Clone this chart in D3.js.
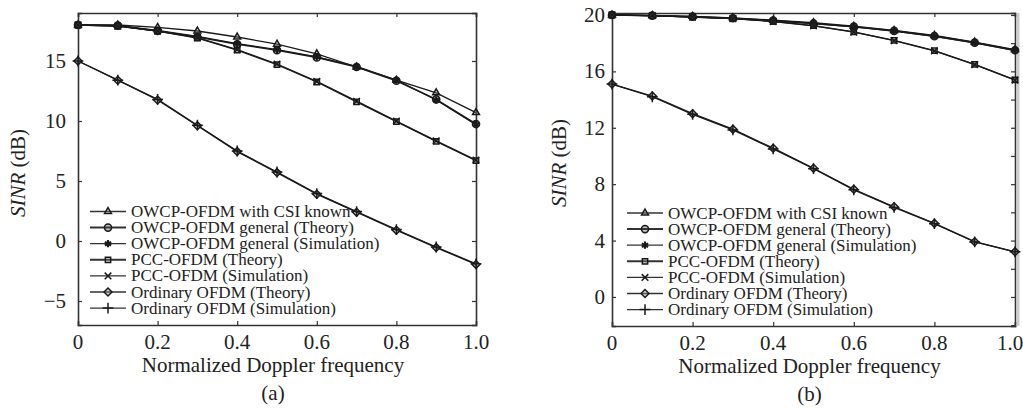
<!DOCTYPE html>
<html>
<head>
<meta charset="UTF-8">
<title>SINR vs normalized Doppler frequency</title>
<script src="https://d3js.org/d3.v7.min.js"></script>
<style>
  body { margin: 0; background: #fff; }
  svg { display: block; }
  text { font-family: "Liberation Serif", "Times New Roman", serif; fill: #222; }
</style>
</head>
<body>
<svg id="chart" width="1023" height="408"></svg>
<script>
// normalized Doppler frequency
const doppler = [0, 0.1, 0.2, 0.3, 0.4, 0.5, 0.6, 0.7, 0.8, 0.9, 1.0];

// panel (a)
const aCsiKnown = [18.0, 18.0, 17.8, 17.5, 17.0, 16.4, 15.6, 14.5, 13.4, 12.35, 10.7];
const aGenTheory = [18.0, 17.95, 17.5, 17.0, 16.4, 15.9, 15.3, 14.5, 13.35, 11.8, 9.75];
const aGenSim = [18.0, 17.95, 17.55, 17.05, 16.45, 15.95, 15.35, 14.55, 13.4, 11.75, 9.7];
const aPccTheory = [18.0, 17.9, 17.5, 16.9, 15.9, 14.7, 13.25, 11.6, 9.95, 8.3, 6.7];
const aPccSim = [18.0, 17.9, 17.5, 16.95, 15.95, 14.75, 13.3, 11.65, 10.0, 8.35, 6.75];
const aOrdTheory = [15.0, 13.4, 11.75, 9.6, 7.45, 5.7, 3.9, 2.4, 0.9, -0.55, -1.95];
const aOrdSim = [15.0, 13.4, 11.8, 9.65, 7.5, 5.75, 3.95, 2.45, 0.95, -0.5, -1.9];

// panel (b)
const bCsiKnown = [20.0, 19.97, 19.9, 19.8, 19.63, 19.45, 19.2, 18.9, 18.55, 18.08, 17.55];
const bGenTheory = [20.0, 19.95, 19.88, 19.77, 19.6, 19.4, 19.17, 18.87, 18.5, 18.04, 17.5];
const bGenSim = [20.0, 19.94, 19.86, 19.75, 19.58, 19.38, 19.15, 18.85, 18.48, 18.02, 17.48];
const bPccTheory = [20.0, 19.95, 19.85, 19.75, 19.55, 19.25, 18.8, 18.2, 17.47, 16.5, 15.4];
const bPccSim = [20.0, 19.95, 19.85, 19.74, 19.53, 19.23, 18.78, 18.18, 17.45, 16.48, 15.38];
const bOrdTheory = [15.1, 14.25, 13.0, 11.9, 10.55, 9.13, 7.64, 6.4, 5.22, 3.92, 3.2];
const bOrdSim = [15.1, 14.2, 12.95, 11.85, 10.5, 9.1, 7.6, 6.35, 5.2, 3.9, 3.2];

const legendLabels = [
  "OWCP-OFDM with CSI known",
  "OWCP-OFDM general (Theory)",
  "OWCP-OFDM general (Simulation)",
  "PCC-OFDM (Theory)",
  "PCC-OFDM (Simulation)",
  "Ordinary OFDM (Theory)",
  "Ordinary OFDM (Simulation)"
];
const markerTypes = ["triangle", "circle", "asterisk", "square", "times", "diamond", "plus"];

const xTicks = [0, 0.2, 0.4, 0.6, 0.8, 1.0];
const xTickLabels = ["0", "0.2", "0.4", "0.6", "0.8", "1.0"];
const aYTicks = [-5, 0, 5, 10, 15];
const bYTicks = [0, 4, 8, 12, 16, 20];
const bYMinorTicks = [-2, 0, 2, 4, 6, 8, 10, 12, 14, 16, 18, 20];

const svg = d3.select("#chart");
const ink = "#1a1a1a";

function symbolFor(type) {
  const m = {
    triangle: [d3.symbolTriangle2 || d3.symbolTriangle, 34],
    circle: [d3.symbolCircle, 40],
    asterisk: [d3.symbolAsterisk || d3.symbolCross, 36],
    square: [d3.symbolSquare2 || d3.symbolSquare, 36],
    times: [d3.symbolTimes || d3.symbolCross, 30],
    diamond: [d3.symbolDiamond2 || d3.symbolDiamond, 40],
    plus: [d3.symbolPlus || d3.symbolCross, 40]
  };
  return m[type];
}

function drawMarker(g, type, x, y) {
  const [sym, size] = symbolFor(type);
  const open = type === "triangle" || type === "square" || type === "diamond" || type === "circle";
  g.append("path")
    .attr("d", d3.symbol(sym, size)())
    .attr("transform", `translate(${x},${y})`)
    .attr("fill", open ? (type === "circle" ? "#444" : "#888") : "none")
    .attr("fill-opacity", open ? 0.35 : 0)
    .attr("stroke", ink)
    .attr("stroke-width", type === "asterisk" ? 2.2 : 1.5);
}

function drawPanel(cfg) {
  const g = svg.append("g");
  const x = d3.scaleLinear().domain([0, 1]).range([cfg.left, cfg.right]);
  const y = d3.scaleLinear().domain(cfg.yDomain).range([cfg.bottom, cfg.top]);

  // axes with inward ticks
  const bottomAxis = d3.axisBottom(x).tickValues(xTicks).tickSize(-4).tickFormat("");
  const topAxis = d3.axisTop(x).tickValues(xTicks).tickSize(-4).tickFormat("");
  const leftAxis = d3.axisLeft(y).tickValues(cfg.yTicks).tickSize(-4).tickFormat("");
  const rightAxis = d3.axisRight(y).tickValues(cfg.yRightTicks).tickSize(-4).tickFormat("");

  [[bottomAxis, `translate(0,${cfg.bottom})`], [topAxis, `translate(0,${cfg.top})`],
   [leftAxis, `translate(${cfg.left},0)`], [rightAxis, `translate(${cfg.right},0)`]].forEach(([ax, tr]) => {
    const a = g.append("g").attr("transform", tr).call(ax);
    a.select(".domain").attr("stroke", "#333").attr("stroke-width", 1.6);
    a.selectAll(".tick line").attr("stroke", "#333").attr("stroke-width", 1.2);
  });

  if (cfg.edgeShade) {
    g.append("line")
      .attr("x1", cfg.right + 3).attr("x2", cfg.right + 3)
      .attr("y1", cfg.top).attr("y2", cfg.bottom)
      .attr("stroke", "#ccc").attr("stroke-width", 3);
  }

  // tick labels (the last one is kept inside the window)
  g.selectAll(".xl").data(xTicks).enter().append("text")
    .attr("x", d => Math.min(x(d), cfg.lastLabelMaxX - 13))
    .attr("y", cfg.bottom + 24)
    .attr("text-anchor", "middle").attr("font-size", 21)
    .text((d, i) => xTickLabels[i]);
  g.selectAll(".yl").data(cfg.yTicks).enter().append("text")
    .attr("x", cfg.left - cfg.yLabelGap).attr("y", d => y(d) + 7)
    .attr("text-anchor", "end").attr("font-size", 21)
    .text(d => d < 0 ? "\u2212" + Math.abs(d) : d);

  // axis titles
  g.append("text")
    .attr("x", (cfg.left + cfg.right) / 2 - 4).attr("y", cfg.bottom + 47)
    .attr("text-anchor", "middle").attr("font-size", 21)
    .text("Normalized Doppler frequency");
  g.append("text")
    .attr("x", (cfg.left + cfg.right) / 2 - 4).attr("y", cfg.bottom + 75)
    .attr("text-anchor", "middle").attr("font-size", 21)
    .text(cfg.caption);
  const yt = g.append("text")
    .attr("transform", `translate(${cfg.yTitleX},${cfg.yTitleY}) rotate(-90)`)
    .attr("text-anchor", "middle").attr("font-size", 21);
  yt.append("tspan").attr("font-style", "italic").text("SINR");
  yt.append("tspan").text(" (dB)");

  // curves
  const line = d3.line().x((d, i) => x(doppler[i])).y(d => y(d));
  cfg.series.forEach((s, k) => {
    g.append("path").datum(s)
      .attr("d", line).attr("fill", "none")
      .attr("stroke", ink).attr("stroke-width", k === 1 ? 1.6 : 1.3);
  });
  cfg.series.forEach((s, k) => {
    s.forEach((v, i) => drawMarker(g, markerTypes[k], x(doppler[i]), y(v)));
  });

  // legend (no box)
  legendLabels.forEach((lab, i) => {
    const ly = cfg.legendY + i * 16.1;
    g.append("line")
      .attr("x1", cfg.legendX).attr("x2", cfg.legendX + 36)
      .attr("y1", ly).attr("y2", ly)
      .attr("stroke", "#333").attr("stroke-width", i === 1 || i === 3 ? 2 : 1.3);
    drawMarker(g, markerTypes[i], cfg.legendX + 18, ly);
    g.append("text")
      .attr("x", cfg.legendX + 41).attr("y", ly + 5.5)
      .attr("font-size", 17)
      .text(lab);
  });
}

drawPanel({
  left: 78, right: 476, top: 13, bottom: 325,
  yDomain: [-7, 19], yTicks: aYTicks, yRightTicks: aYTicks, yLabelGap: 12,
  yTitleX: 25, yTitleY: 173, caption: "(a)", lastLabelMaxX: 1023,
  legendX: 90, legendY: 211.5,
  series: [aCsiKnown, aGenTheory, aGenSim, aPccTheory, aPccSim, aOrdTheory, aOrdSim]
});

drawPanel({
  left: 612, right: 1015, top: 13, bottom: 326,
  yDomain: [-2.06, 20.14], yTicks: bYTicks, yRightTicks: bYMinorTicks, yLabelGap: 7,
  yTitleX: 566, yTitleY: 163, caption: "(b)", edgeShade: true, lastLabelMaxX: 1023,
  legendX: 627, legendY: 213,
  series: [bCsiKnown, bGenTheory, bGenSim, bPccTheory, bPccSim, bOrdTheory, bOrdSim]
});
</script>
</body>
</html>
